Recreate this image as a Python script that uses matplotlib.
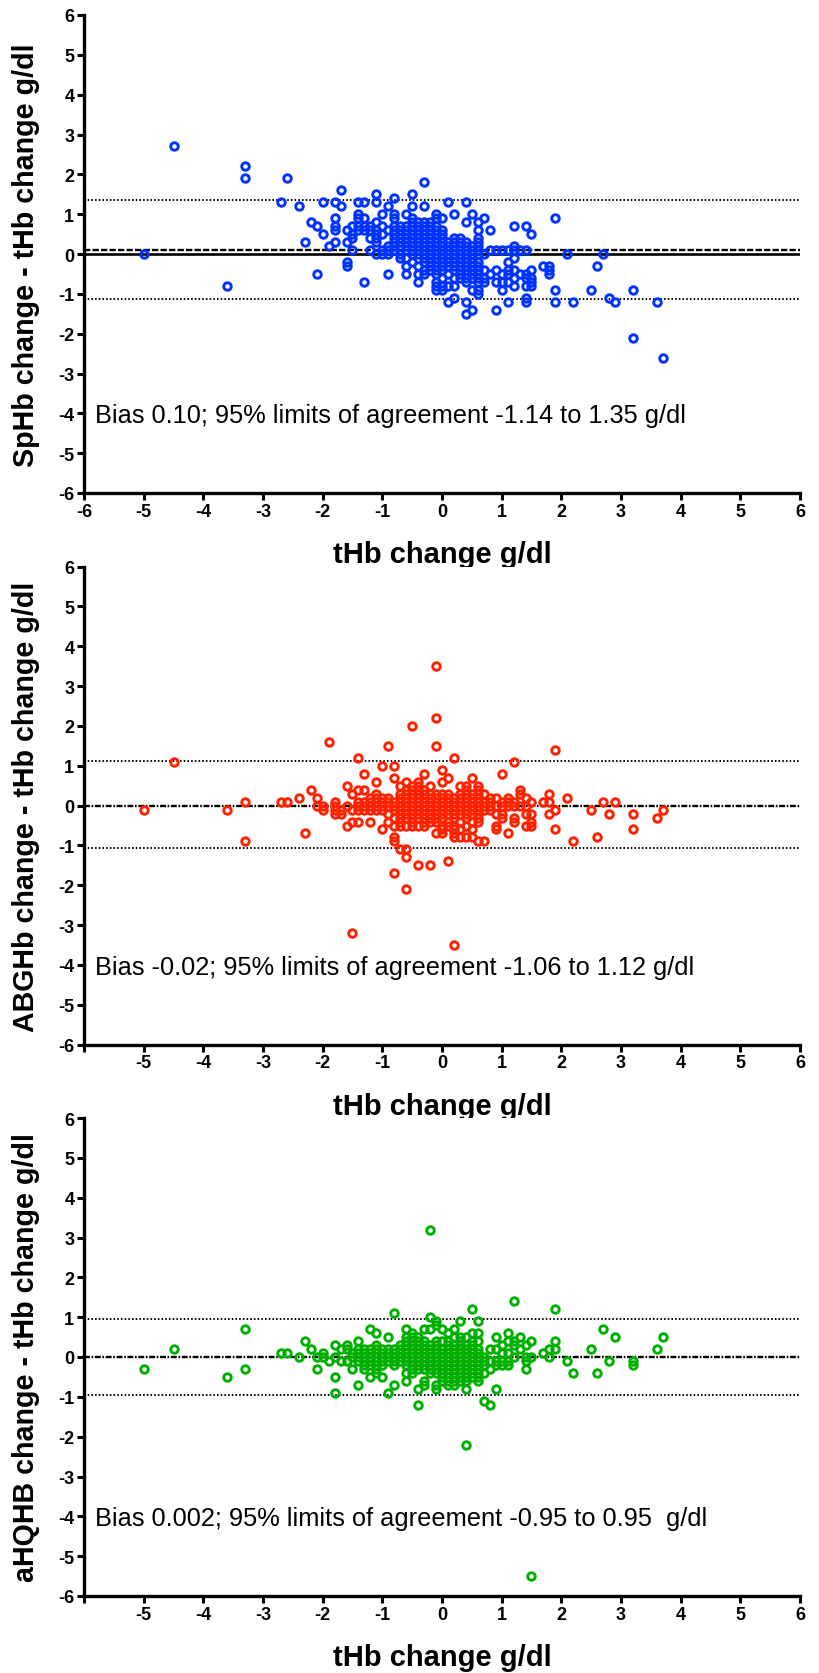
import matplotlib
matplotlib.use('Agg')
import matplotlib.pyplot as plt

# ---------------- data ----------------
# Panel 1: SpHb change - tHb change vs tHb change; columns of x with their y values
sphb_x = [-5.0, -4.5, -3.6, -3.3, -2.7, -2.6, -2.4, -2.3, -2.2, -2.1, -2.0, -1.9, -1.8, -1.7,
          -1.6, -1.5, -1.4, -1.3, -1.2, -1.1, -1.0, -0.9, -0.8, -0.7, -0.6, -0.5, -0.4, -0.3,
          -0.2, -0.1, 0.0, 0.1, 0.2, 0.3, 0.4, 0.5, 0.6, 0.7, 0.8, 0.9, 1.0, 1.1, 1.2, 1.3,
          1.4, 1.5, 1.7, 1.8, 1.9, 2.1, 2.2, 2.5, 2.6, 2.7, 2.8, 2.9, 3.2, 3.6, 3.7]
sphb_y = [[0.0], [2.7], [-0.8], [2.2, 1.9], [1.3], [1.9], [1.2], [0.3], [0.8], [0.7, -0.5],
          [1.3, 0.5], [0.2], [1.3, 0.9, 0.7, 0.6, 0.3], [1.6, 1.2], [0.6, 0.3, -0.2, -0.3],
          [0.7, 0.5, 0.4, 0.1], [1.3, 1.0, 0.9, 0.7, 0.6], [1.3, 0.9, 0.7, 0.6, -0.7],
          [0.7, 0.6, 0.4, 0.1], [1.5, 1.3, 0.8, 0.6, 0.5, 0.4, 0.3, 0.0],
          [1.0, 0.7, 0.5, 0.1, 0.0], [1.2, 0.6, 0.2, 0.1, 0.0, -0.5],
          [1.4, 1.0, 0.9, 0.7, 0.6, 0.5, 0.4, 0.3, 0.2, 0.1],
          [0.7, 0.6, 0.5, 0.4, 0.3, 0.2, 0.0, -0.1],
          [1.0, 0.7, 0.6, 0.5, 0.4, 0.3, 0.2, 0.1, -0.1, -0.3, -0.5],
          [1.5, 1.2, 0.9, 0.8, 0.7, 0.6, 0.5, 0.4, 0.3, 0.2, 0.1, 0.0, -0.2],
          [0.8, 0.7, 0.6, 0.5, 0.4, 0.3, 0.2, 0.1, 0.0, -0.3, -0.5, -0.7],
          [1.8, 1.2, 0.8, 0.7, 0.6, 0.5, 0.4, 0.3, 0.2, 0.1, 0.0, -0.1, -0.2, -0.4, -0.5],
          [0.8, 0.7, 0.6, 0.5, 0.4, 0.3, 0.2, 0.1, 0.0, -0.1, -0.2, -0.3, -0.4],
          [1.0, 0.9, 0.7, 0.6, 0.5, 0.4, 0.3, 0.2, 0.1, 0.0, -0.1, -0.2, -0.3, -0.4, -0.5,
           -0.7, -0.8, -0.9],
          [0.9, 0.6, 0.5, 0.4, 0.3, 0.2, 0.1, 0.0, -0.1, -0.2, -0.3, -0.4, -0.6, -0.8, -0.9],
          [1.3, 0.3, 0.2, 0.1, 0.0, -0.1, -0.2, -0.3, -0.5, -0.8, -1.2],
          [1.0, 0.4, 0.3, 0.2, 0.1, 0.0, -0.1, -0.2, -0.3, -0.4, -0.6, -0.8, -1.1],
          [0.4, 0.3, 0.2, 0.1, 0.0, -0.1, -0.2, -0.3, -0.4, -0.5, -0.6],
          [1.3, 0.8, 0.3, 0.2, 0.1, 0.0, -0.1, -0.2, -0.3, -0.4, -0.5, -0.6, -0.7, -1.2, -1.5],
          [1.0, 0.2, 0.1, 0.0, -0.1, -0.2, -0.3, -0.4, -0.5, -0.6, -0.9, -1.4],
          [0.8, 0.6, 0.4, 0.3, 0.2, 0.1, 0.0, -0.2, -0.3, -0.4, -0.5, -0.6, -0.7, -0.9, -1.0],
          [0.9, 0.0, -0.4, -0.6, -0.7], [0.6, 0.1, -0.5], [0.1, -0.4, -0.7, -1.4],
          [0.1, -0.5, -0.7, -0.9], [0.1, -0.2, -0.4, -0.5, -0.7, -1.2],
          [0.7, 0.2, 0.1, -0.1, -0.4, -0.6, -0.8], [0.1, -0.5],
          [0.7, 0.1, -0.5, -0.6, -0.8, -1.1, -1.2], [0.5, -0.4, -0.6, -0.7, -0.8],
          [-0.3], [-0.3, -0.4, -0.5], [0.9, -0.9, -1.2], [0.0], [-1.2], [-0.9], [-0.3],
          [0.0], [-1.1], [-1.2], [-0.9, -2.1], [-1.2], [-2.6]]

# Panel 2: ABGHb change - tHb change
abg_x = [-5.0, -4.5, -3.6, -3.3, -2.7, -2.6, -2.4, -2.3, -2.2, -2.1, -2.0, -1.9, -1.8, -1.7,
         -1.6, -1.5, -1.4, -1.3, -1.2, -1.1, -1.0, -0.9, -0.8, -0.7, -0.6, -0.5, -0.4, -0.3,
         -0.2, -0.1, 0.0, 0.1, 0.2, 0.3, 0.4, 0.5, 0.6, 0.7, 0.8, 0.9, 1.0, 1.1, 1.2, 1.3,
         1.4, 1.5, 1.7, 1.8, 1.9, 2.1, 2.2, 2.5, 2.6, 2.7, 2.8, 2.9, 3.2, 3.6, 3.7]
abg_y = [[-0.1], [1.1], [-0.1], [0.1, -0.9], [0.1], [0.1], [0.2], [-0.7], [0.4], [0.2, 0.0],
         [0.0, -0.1], [1.6], [0.1, 0.0, -0.1, -0.2], [-0.1, -0.2], [0.5, 0.0, -0.5],
         [0.3, -0.1, -0.4, -3.2], [1.2, 0.4, 0.1, 0.0, -0.1, -0.4], [0.8, 0.4, 0.1, 0.0, -0.1],
         [0.2, 0.1, 0.0, -0.1, -0.4], [0.6, 0.3, 0.2, 0.1, 0.0, -0.1],
         [1.0, 0.2, 0.1, 0.0, -0.1, -0.6], [1.5, 0.2, 0.1, 0.0, -0.2, -0.4],
         [1.0, 0.7, 0.1, 0.0, -0.1, -0.3, -0.5, -0.8, -0.9, -1.7],
         [0.5, 0.3, 0.2, 0.1, 0.0, -0.1, -0.2, -0.3, -0.4, -0.5, -1.1],
         [0.6, 0.4, 0.3, 0.2, 0.1, 0.0, -0.1, -0.2, -0.3, -0.5, -1.1, -1.3, -2.1],
         [2.0, 0.5, 0.4, 0.3, 0.2, 0.1, 0.0, -0.1, -0.2, -0.3, -0.4, -0.5],
         [0.6, 0.5, 0.4, 0.3, 0.2, 0.1, 0.0, -0.1, -0.2, -0.3, -0.5, -1.5],
         [0.8, 0.4, 0.3, 0.2, 0.1, 0.0, -0.1, -0.2, -0.3, -0.4, -0.5],
         [0.5, 0.3, 0.2, 0.1, 0.0, -0.1, -0.2, -0.3, -0.4, -1.5],
         [3.5, 2.2, 1.5, 0.3, 0.2, 0.1, 0.0, -0.1, -0.2, -0.3, -0.4, -0.7],
         [0.9, 0.6, 0.3, 0.2, 0.1, 0.0, -0.1, -0.2, -0.3, -0.5, -0.6, -0.7],
         [0.7, 0.3, 0.2, 0.1, 0.0, -0.1, -0.2, -0.4, -0.5, -1.4],
         [1.2, 0.2, 0.1, 0.0, -0.1, -0.2, -0.3, -0.5, -0.6, -0.7, -0.8, -3.5],
         [0.5, 0.3, 0.2, 0.1, 0.0, -0.1, -0.2, -0.4, -0.6, -0.8],
         [0.5, 0.4, 0.3, 0.2, 0.1, 0.0, -0.1, -0.2, -0.3, -0.5, -0.8],
         [0.7, 0.3, 0.2, 0.1, 0.0, -0.1, -0.2, -0.4, -0.6, -0.8],
         [0.5, 0.4, 0.3, 0.2, 0.1, 0.0, -0.1, -0.2, -0.3, -0.4, -0.9],
         [0.3, 0.1, 0.0, -0.1, -0.9], [0.2, 0.1, 0.0, -0.1], [0.2, 0.0, -0.2, -0.5, -0.6],
         [0.8, 0.1, 0.0, -0.2, -0.3], [0.2, 0.1, 0.0, -0.7], [1.1, 0.1, 0.0, -0.3, -0.4],
         [0.4, 0.3, 0.0], [0.2, 0.0, -0.2, -0.5], [0.1, -0.2, -0.4, -0.5], [0.1],
         [0.3, 0.1, -0.2], [1.4, -0.1, -0.6], [0.2], [-0.9], [-0.1], [-0.8], [0.1], [-0.2],
         [0.1], [-0.2, -0.6], [-0.3], [-0.1]]

# Panel 3: aHQHB change - tHb change
ahq_x = [-5.0, -4.5, -3.6, -3.3, -2.7, -2.6, -2.4, -2.3, -2.2, -2.1, -2.0, -1.9, -1.8, -1.7,
         -1.6, -1.5, -1.4, -1.3, -1.2, -1.1, -1.0, -0.9, -0.8, -0.7, -0.6, -0.5, -0.4, -0.3,
         -0.2, -0.1, 0.0, 0.1, 0.2, 0.3, 0.4, 0.5, 0.6, 0.7, 0.8, 0.9, 1.0, 1.1, 1.2, 1.3,
         1.4, 1.5, 1.7, 1.8, 1.9, 2.1, 2.2, 2.5, 2.6, 2.7, 2.8, 2.9, 3.2, 3.6, 3.7]
ahq_y = [[-0.3], [0.2], [-0.5], [0.7, -0.3], [0.1], [0.1], [0.0], [0.4], [0.2], [0.0, -0.3],
         [0.1, 0.0], [-0.1], [0.3, 0.0, -0.5, -0.9], [0.2, -0.1], [0.3, 0.2, -0.1],
         [0.1, 0.0, -0.3], [0.4, 0.2, 0.1, 0.0, -0.1, -0.7], [0.2, 0.1, 0.0, -0.1, -0.2, -0.3],
         [0.7, 0.2, 0.1, 0.0, -0.1, -0.2, -0.5],
         [0.6, 0.3, 0.2, 0.1, 0.0, -0.1, -0.2, -0.3, -0.4],
         [0.2, 0.1, 0.0, -0.1, -0.2, -0.5], [0.5, 0.2, 0.1, 0.0, -0.1, -0.9],
         [1.1, 0.2, 0.1, 0.0, -0.1, -0.2, -0.7], [0.3, 0.2, 0.1, 0.0, -0.1],
         [0.7, 0.5, 0.4, 0.3, 0.2, 0.1, 0.0, -0.1, -0.2, -0.4, -0.6],
         [0.6, 0.5, 0.4, 0.3, 0.2, 0.1, 0.0, -0.1, -0.2, -0.3, -0.4],
         [0.5, 0.4, 0.3, 0.2, 0.1, 0.0, -0.1, -0.2, -0.3, -0.8, -1.2],
         [0.7, 0.4, 0.3, 0.2, 0.1, 0.0, -0.1, -0.2, -0.3, -0.6, -0.7],
         [3.2, 1.0, 0.7, 0.3, 0.2, 0.1, 0.0, -0.1, -0.2, -0.3, -0.4],
         [0.9, 0.8, 0.4, 0.3, 0.2, 0.1, 0.0, -0.1, -0.2, -0.3, -0.4, -0.7, -0.8],
         [0.7, 0.4, 0.2, 0.1, 0.0, -0.1, -0.2, -0.3, -0.4, -0.5, -0.6],
         [0.6, 0.4, 0.3, 0.2, 0.1, 0.0, -0.1, -0.2, -0.3, -0.4, -0.5, -0.6, -0.7],
         [0.7, 0.5, 0.3, 0.2, 0.1, 0.0, -0.1, -0.2, -0.3, -0.4, -0.5, -0.6, -0.7],
         [0.9, 0.5, 0.4, 0.3, 0.2, 0.1, 0.0, -0.1, -0.2, -0.3, -0.4, -0.5, -0.6],
         [0.5, 0.3, 0.2, 0.1, 0.0, -0.1, -0.2, -0.3, -0.4, -0.5, -0.6, -0.8, -2.2],
         [1.2, 0.6, 0.4, 0.3, 0.2, 0.1, 0.0, -0.1, -0.2, -0.3, -0.4, -0.5],
         [0.9, 0.6, 0.4, 0.2, 0.1, 0.0, -0.1, -0.2, -0.3, -0.4, -0.5, -0.6],
         [0.0, -0.1, -0.2, -0.4, -1.1], [0.2, -0.1, -0.3, -1.2], [0.5, 0.2, -0.1, -0.2, -0.8],
         [0.3, 0.1, -0.1, -0.2], [0.6, 0.4, 0.1, -0.1, -0.2], [1.4, 0.4, 0.3, 0.0],
         [0.5, 0.2], [0.3, 0.0, -0.1, -0.3], [0.4, 0.0, -5.5], [0.1], [0.2, 0.0],
         [1.2, 0.4, 0.2], [-0.1], [-0.4], [0.2], [-0.4], [0.7], [-0.1], [0.5], [-0.1, -0.2],
         [0.2], [0.5]]

# Bias and 95% limits of agreement
bias = [0.10, -0.02, 0.002]
lower_loa = [-1.14, -1.06, -0.95]
upper_loa = [1.35, 1.12, 0.95]

ylabels = ['SpHb change - tHb change g/dl', 'ABGHb change - tHb change g/dl',
           'aHQHB change - tHb change g/dl']
xlabel = 'tHb change g/dl'
notes = ['Bias 0.10; 95% limits of agreement -1.14 to 1.35 g/dl',
         'Bias -0.02; 95% limits of agreement -1.06 to 1.12 g/dl',
         'Bias 0.002; 95% limits of agreement -0.95 to 0.95  g/dl']
colors = ['#0033ff', '#ff2200', '#00b000']
ticks = [-6, -5, -4, -3, -2, -1, 0, 1, 2, 3, 4, 5, 6]

series = [(sphb_x, sphb_y), (abg_x, abg_y), (ahq_x, ahq_y)]

FONT = ['Liberation Sans', 'DejaVu Sans']

W, H = 820, 1674
fig = plt.figure(figsize=(W / 100, H / 100), dpi=100)

left_px, right_px = 84, 800
tops_px = [16, 567.6, 1119]
height_px = 478

for i in range(3):
    top = tops_px[i]
    ax = fig.add_axes([left_px / W, (H - top - height_px) / H,
                       (right_px - left_px) / W, height_px / H])
    xs_cols, ys_cols = series[i]
    px, py = [], []
    for xv, yl in zip(xs_cols, ys_cols):
        for yv in yl:
            px.append(xv)
            py.append(yv)

    # reference lines
    if i == 0:
        ax.axhline(0, color='black', lw=1.9, zorder=1)
        ax.axhline(bias[i], color='black', lw=1.7, ls=(0, (2.7, 0.9)), zorder=1)
    else:
        ax.axhline(bias[i], color='black', lw=1.7, ls=(0, (2.5, 0.7, 0.7, 0.7)), zorder=1)
    ax.axhline(upper_loa[i], color='black', lw=1.4, ls=(0, (0.8, 1.1)), zorder=1)
    ax.axhline(lower_loa[i], color='black', lw=1.4, ls=(0, (0.8, 1.1)), zorder=1)

    ax.plot(px, py, ls='none', marker='o', ms=5.4, mew=2.1, mfc='none',
            mec=colors[i], zorder=3, clip_on=False)

    ax.set_xlim(-6, 6)
    ax.set_ylim(-6, 6)
    ax.set_yticks(ticks)
    ax.set_yticklabels([str(t) for t in ticks])
    ax.set_xticks(ticks)
    if i == 0:
        ax.set_xticklabels([str(t) for t in ticks])
    else:
        ax.set_xticklabels([''] + [str(t) for t in ticks[1:]])

    for s in ['top', 'right']:
        ax.spines[s].set_visible(False)
    for s in ['left', 'bottom']:
        ax.spines[s].set_linewidth(2.4)
    ax.tick_params(axis='both', direction='out', length=5, width=2.2, pad=2)
    for lab in ax.get_xticklabels() + ax.get_yticklabels():
        lab.set_family(FONT)
        lab.set_fontweight('bold')
        lab.set_fontsize(13)

    ax.set_ylabel(ylabels[i], family=FONT, fontweight='bold', fontsize=20.6)
    ax.yaxis.set_label_coords(-0.081, 0.5)
    ax.yaxis.label.set_va('center')
    ax.set_xlabel(xlabel, family=FONT, fontweight='bold', fontsize=21)
    ax.xaxis.set_label_coords(0.5, -0.128)
    ax.xaxis.label.set_va('center')

    ax.text(-5.82, -4.05, notes[i], family=FONT, fontsize=18.3, va='center', ha='left')

fig.savefig('out.png', dpi=100)
